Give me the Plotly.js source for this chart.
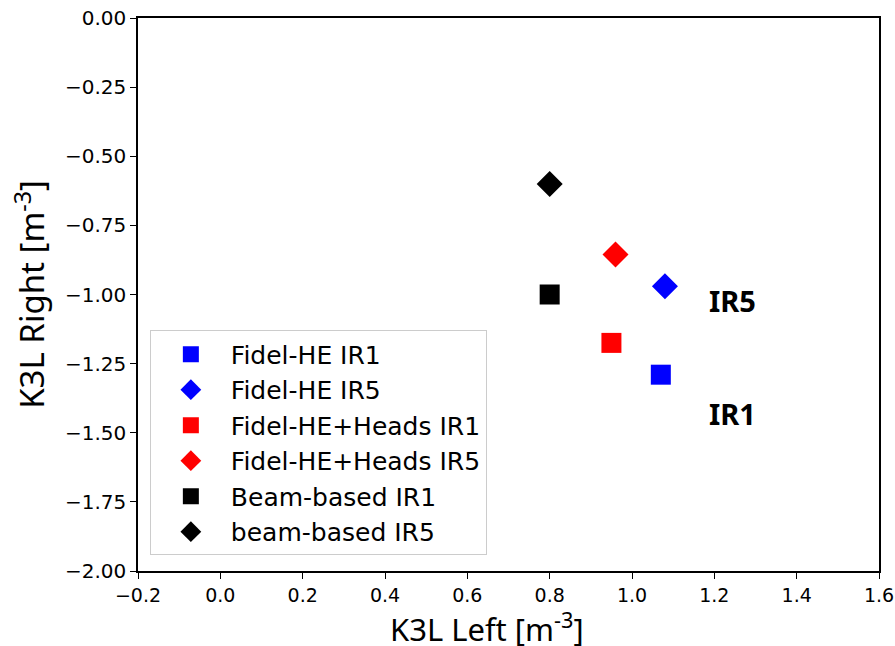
<!DOCTYPE html>
<html>
<head>
<meta charset="utf-8">
<script src="https://cdn.plot.ly/plotly-3.0.1.min.js"></script>
<style>html,body{margin:0;padding:0;background:#fff;}#chart{width:895px;height:646px;}</style>
</head>
<body>
<div id="chart"></div>
<script>
const seriesNames = ["Fidel-HE IR1", "Fidel-HE IR5", "Fidel-HE+Heads IR1", "Fidel-HE+Heads IR5", "Beam-based IR1", "beam-based IR5"];
const k3lLeft = [1.07, 1.08, 0.95, 0.96, 0.80, 0.80];
const k3lRight = [-1.29, -0.97, -1.175, -0.855, -1.00, -0.60];
const seriesColors = ["#0000ff", "#0000ff", "#ff0000", "#ff0000", "#000000", "#000000"];
const seriesSymbols = ["square", "diamond", "square", "diamond", "square", "diamond"];
const labelTexts = ["IR5", "IR1"];
const labelX = [1.243, 1.243];
const labelY = [-1.02, -1.43];
const xTitle = "K3L Left [m<sup>-3</sup>]";
const yTitle = "K3L Right [m<sup>-3</sup>]";

const traces = seriesNames.map((n, i) => ({
  type: "scatter", mode: "markers", name: n,
  x: [k3lLeft[i]], y: [k3lRight[i]],
  marker: {color: seriesColors[i], symbol: seriesSymbols[i], size: 20, line: {width: 0}}
}));

const axisCommon = {
  showgrid: false, zeroline: false, showline: true, mirror: true,
  linecolor: "#000", linewidth: 1.5, ticks: "outside", ticklen: 6, tickwidth: 1.2, tickcolor: "#000",
  tickfont: {family: "DejaVu Sans", size: 20, color: "#000"}
};

const annotations = labelTexts.map((t, i) => ({
  x: labelX[i], y: labelY[i], xref: "x", yref: "y", text: "<b>" + t + "</b>", showarrow: false,
  font: {family: "Noto Sans", size: 29, color: "#000"}
}));
annotations.push({
  x: 0.471, y: -0.103, xref: "paper", yref: "paper", xanchor: "center", yanchor: "middle",
  text: xTitle, showarrow: false, font: {family: "Noto Sans", size: 31, color: "#000"}
});

const layout = {
  width: 895, height: 646,
  margin: {l: 138, r: 16, t: 18, b: 75},
  paper_bgcolor: "#fff", plot_bgcolor: "#fff",
  showlegend: true,
  xaxis: Object.assign({}, axisCommon, {
    range: [-0.2, 1.6], tickmode: "linear", tick0: -0.2, dtick: 0.2, tickformat: ".1f",
    tickfont: {family: "DejaVu Sans", size: 19, color: "#000"}
  }),
  yaxis: Object.assign({}, axisCommon, {
    range: [-2, 0], tickmode: "linear", tick0: -2, dtick: 0.25, tickformat: ".2f",
    title: {text: yTitle, font: {family: "Noto Sans", size: 33, color: "#000"}, standoff: 10}
  }),
  legend: {
    x: 0.016, y: 0.435, xanchor: "left", yanchor: "top",
    bgcolor: "rgba(255,255,255,0.8)", bordercolor: "#cccccc", borderwidth: 1,
    font: {family: "DejaVu Sans", size: 25, color: "#000"},
    itemwidth: 70, tracegroupgap: 0
  },
  annotations: annotations
};

Plotly.newPlot("chart", traces, layout, {displayModeBar: false});
</script>
</body>
</html>
